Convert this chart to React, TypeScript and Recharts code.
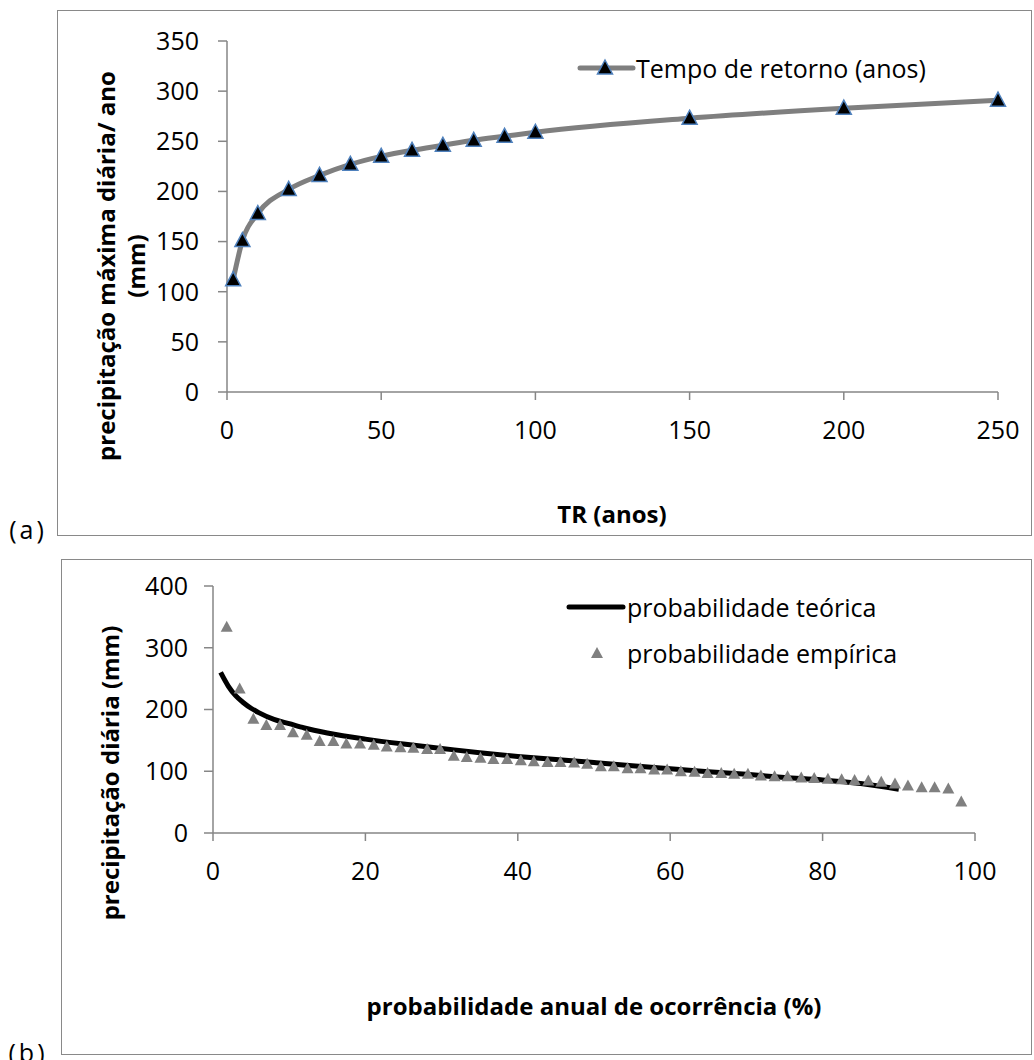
import React from 'react';
import { LineChart, Line, XAxis, YAxis, ComposedChart, Scatter, Legend } from 'recharts';

// ---- Chart (a) data ----
const trYears = [2, 5, 10, 20, 30, 40, 50, 60, 70, 80, 90, 100, 150, 200, 250];
const trPrecip = [112, 151, 178, 202, 216, 227, 235, 241, 246, 251, 255, 259, 273, 283, 291];
const aTicksX = [0, 50, 100, 150, 200, 250];
const aTicksY = [0, 50, 100, 150, 200, 250, 300, 350];

// ---- Chart (b) data ----
const theoProb = [1, 2, 3, 4, 5, 6, 8, 10, 12, 15, 20, 25, 30, 35, 40, 45, 50, 55, 60, 65, 70, 75, 80, 85, 90];
const theoPrecip = [260, 238, 222, 211, 202, 195, 184, 177, 170, 162, 152, 144, 137, 130, 124, 119, 114, 109, 104, 99, 95, 90, 86, 80, 71];
const empProb = [1.8, 3.5, 5.3, 7.0, 8.8, 10.5, 12.3, 14.0, 15.8, 17.5, 19.3, 21.1, 22.8, 24.6, 26.3, 28.1, 29.8, 31.6, 33.3, 35.1, 36.8, 38.6, 40.4, 42.1, 43.9, 45.6, 47.4, 49.1, 50.9, 52.6, 54.4, 56.1, 57.9, 59.6, 61.4, 63.2, 64.9, 66.7, 68.4, 70.2, 71.9, 73.7, 75.4, 77.2, 78.9, 80.7, 82.5, 84.2, 86.0, 87.7, 89.5, 91.2, 93.0, 94.7, 96.5, 98.2];
const empPrecip = [334, 234, 185, 175, 175, 163, 159, 149, 149, 145, 145, 143, 140, 139, 138, 136, 136, 125, 123, 122, 120, 120, 118, 116, 115, 115, 114, 112, 108, 108, 105, 105, 103, 103, 100, 99, 97, 97, 96, 96, 93, 92, 92, 90, 89, 88, 87, 86, 85, 83, 80, 77, 74, 74, 72, 51];
const bTicksX = [0, 20, 40, 60, 80, 100];
const bTicksY = [0, 100, 200, 300, 400];

const dataA = trYears.map((x, i) => ({ x, y: trPrecip[i] }));
const dataTheo = theoProb.map((x, i) => ({ x, y: theoPrecip[i] }));
const dataEmp = empProb.map((x, i) => ({ x, y: empPrecip[i] }));

const FONT = '"Open Sans", sans-serif';
const AXIS = '#868686';
const tickStyle = { fontSize: 25, fill: '#000', fontFamily: FONT };

const BlueTri = (props: any) => {
  const { cx, cy, index } = props;
  if (cx == null || cy == null) return <g key={index} />;
  return (
    <path
      key={index}
      d={`M${cx},${cy - 8} L${cx + 7.5},${cy + 6} L${cx - 7.5},${cy + 6} Z`}
      fill="#000"
      stroke="#4f81bd"
      strokeWidth={1.5}
    />
  );
};

const GrayTri = (props: any) => {
  const { cx, cy } = props;
  return <path d={`M${cx},${cy - 6} L${cx + 6},${cy + 5} L${cx - 6},${cy + 5} Z`} fill="#808080" />;
};

const LegendA = () => (
  <svg width={380} height={40} style={{ display: 'block' }}>
    <line x1={5} y1={20} x2={58} y2={20} stroke="#7f7f7f" strokeWidth={5} strokeLinecap="round" />
    <path d="M30,12 L37.5,26 L22.5,26 Z" fill="#000" stroke="#4f81bd" strokeWidth={1.5} />
    <text x={61} y={20} dominantBaseline="central" fontSize={25} fontFamily={FONT} fill="#000">
      Tempo de retorno (anos)
    </text>
  </svg>
);

const LegendB = () => (
  <svg width={380} height={90} style={{ display: 'block' }}>
    <line x1={4} y1={20} x2={58} y2={20} stroke="#000" strokeWidth={5} strokeLinecap="round" />
    <text x={62} y={20} dominantBaseline="central" fontSize={25} fontFamily={FONT} fill="#000">
      probabilidade teórica
    </text>
    <path d="M32,60 L38,71 L26,71 Z" fill="#808080" />
    <text x={62} y={66} dominantBaseline="central" fontSize={25} fontFamily={FONT} fill="#000">
      probabilidade empírica
    </text>
  </svg>
);

export default function App() {
  return (
    <div style={{ position: 'absolute', left: 0, top: 0, width: 1034, height: 1060, background: '#fff', overflow: 'hidden' }}>
      {/* frames */}
      <div style={{ position: 'absolute', left: 57, top: 10, width: 975, height: 526, border: '1.5px solid #898989', boxSizing: 'border-box' }} />
      <div style={{ position: 'absolute', left: 61, top: 559, width: 971, height: 496, border: '1.5px solid #898989', boxSizing: 'border-box' }} />

      {/* chart (a) */}
      <div style={{ position: 'absolute', left: 0, top: 0 }}>
        <LineChart width={1034} height={540} data={dataA} margin={{ top: 41, right: 36, bottom: 0, left: 0 }}>
          <XAxis
            dataKey="x"
            type="number"
            domain={[0, 250]}
            ticks={aTicksX}
            height={108}
            tickSize={8}
            tickMargin={21}
            stroke={AXIS}
            strokeWidth={1.5}
            tick={tickStyle}
          />
          <YAxis
            type="number"
            domain={[0, 350]}
            ticks={aTicksY}
            width={227}
            tickSize={9}
            tickMargin={19}
            stroke={AXIS}
            strokeWidth={1.5}
            tick={tickStyle}
          />
          <Legend
            content={() => <LegendA />}
            wrapperStyle={{ position: 'absolute', left: 575, top: 48, width: 380 }}
          />
          <Line
            type="monotone"
            dataKey="y"
            stroke="#7f7f7f"
            strokeWidth={5}
            dot={BlueTri}
            activeDot={false}
            isAnimationActive={false}
          />
        </LineChart>
      </div>

      {/* chart (b) */}
      <div style={{ position: 'absolute', left: 0, top: 545 }}>
        <ComposedChart width={1034} height={515} margin={{ top: 41, right: 59, bottom: 0, left: 0 }}>
          <XAxis
            dataKey="x"
            type="number"
            domain={[0, 100]}
            ticks={bTicksX}
            height={137}
            tickSize={8}
            tickMargin={21}
            stroke={AXIS}
            strokeWidth={1.5}
            tick={tickStyle}
            allowDuplicatedCategory={false}
          />
          <YAxis
            dataKey="y"
            type="number"
            domain={[0, 400]}
            ticks={bTicksY}
            width={213}
            tickSize={9}
            tickMargin={16}
            stroke={AXIS}
            strokeWidth={1.5}
            tick={tickStyle}
          />
          <Legend
            content={() => <LegendB />}
            wrapperStyle={{ position: 'absolute', left: 565, top: 42, width: 380 }}
          />
          <Scatter data={dataEmp} dataKey="y" fill="#808080" shape={GrayTri} isAnimationActive={false} />
          <Line
            data={dataTheo}
            type="monotone"
            dataKey="y"
            stroke="#000"
            strokeWidth={5}
            dot={false}
            activeDot={false}
            isAnimationActive={false}
          />
        </ComposedChart>
      </div>

      {/* axis titles and panel labels */}
      <svg width={1034} height={1060} style={{ position: 'absolute', left: 0, top: 0, pointerEvents: 'none' }}>
        <g fontFamily={FONT} fontWeight="bold" fontSize={24} fill="#000" textAnchor="middle">
          <text x={105} y={266} dominantBaseline="central" transform="rotate(-90 105 266)">
            precipitação máxima diária/ ano
          </text>
          <text x={135} y={266} dominantBaseline="central" transform="rotate(-90 135 266)">
            (mm)
          </text>
          <text x={612} y={513} dominantBaseline="central">TR (anos)</text>
          <text x={109} y={773} dominantBaseline="central" transform="rotate(-90 109 773)">
            precipitação diária (mm)
          </text>
          <text x={594} y={1005} dominantBaseline="central">probabilidade anual de ocorrência (%)</text>
        </g>
        <g fontFamily={FONT} fontSize={25} fill="#000" textAnchor="middle" letterSpacing={3}>
          <text x={28} y={529} dominantBaseline="central">(a)</text>
          <text x={28} y={1052} dominantBaseline="central">(b)</text>
        </g>
      </svg>
    </div>
  );
}
